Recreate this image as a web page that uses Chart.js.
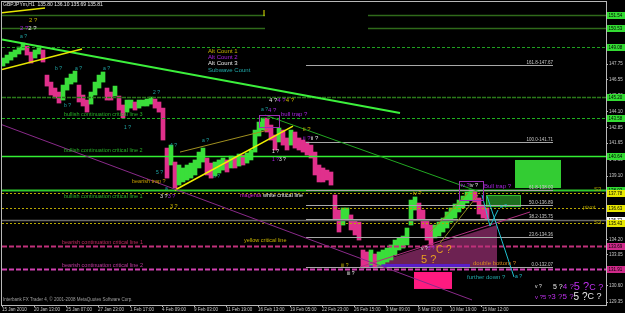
<!DOCTYPE html>
<html lang="en">
<head>
  <meta charset="UTF-8" />
  <title>GBPJPYm,H1</title>
  <script src="https://cdn.jsdelivr.net/npm/chart.js"></script>
  <style>
    html, body { margin: 0; padding: 0; background: #000; overflow: hidden; }
    canvas { display: block; }
  </style>
</head>
<body>
  <canvas id="priceChart" width="625" height="313"></canvas>

  <script>
    // ---- data ----
    const dateLabels = ['15 Jan 2010', '20 Jan 13:00', '25 Jan 07:00', '27 Jan 23:00', '1 Feb 17:00', '4 Feb 09:00',
      '9 Feb 03:00', '11 Feb 19:00', '16 Feb 13:00', '19 Feb 05:00', '22 Feb 23:00', '26 Feb 15:00',
      '3 Mar 09:00', '8 Mar 03:00', '10 Mar 19:00', '15 Mar 12:00'];
    const dateTickBars = [0, 64, 128, 192, 256, 320, 384, 448, 512, 576, 640, 704, 768, 832, 896, 960];
    const priceTicks = [129.35, 130.60, 131.80, 133.05, 134.20, 135.45, 136.65, 137.90, 139.10, 140.35,
      141.65, 142.85, 144.10, 145.30, 146.55, 147.75, 149.00, 150.30, 151.50];

    // one sample per 8 H1 bars
    const highs = [148.22, 148.45, 148.68, 148.84, 149.07, 149.38, 149.14, 148.68, 148.84, 149.14,
      148.84, 146.90, 146.36, 145.90, 145.59, 146.13, 146.67, 146.98, 147.21, 146.13,
      145.36, 144.97, 145.59, 146.36, 146.90, 147.14, 145.90, 145.59, 146.05, 145.28,
      144.59, 144.97, 144.97, 144.82, 144.97, 144.97, 145.05, 145.20, 145.05, 144.82,
      144.35, 141.26, 141.49, 140.18, 139.95, 139.72, 139.95, 140.10, 140.34, 140.95,
      141.26, 140.49, 140.10, 140.18, 140.34, 140.49, 140.34, 140.64, 140.57, 140.80,
      140.72, 140.88, 141.11, 142.65, 143.27, 143.58, 143.58, 143.04, 142.27, 142.81,
      142.65, 142.04, 142.65, 142.50, 142.04, 141.88, 141.73, 141.49, 140.95, 139.95,
      139.72, 139.56, 139.41, 137.63, 136.47, 136.63, 136.63, 136.09, 135.70, 135.54,
      133.38, 133.23, 133.38, 133.07, 133.23, 133.38, 133.53, 133.77, 134.15, 134.31,
      134.46, 135.08, 137.24, 137.48, 137.01, 136.47, 135.70, 135.31, 135.31, 135.54,
      135.85, 136.32, 136.63, 136.94, 137.24, 137.55, 137.86, 138.02, 137.94, 137.40,
      136.86, 136.63];
    const lows = [147.60, 147.83, 148.06, 148.30, 148.53, 148.84, 148.45, 147.83, 148.22, 148.53,
      147.91, 146.05, 145.36, 145.13, 144.74, 144.97, 145.74, 146.21, 146.36, 144.82,
      144.51, 144.04, 144.66, 145.36, 145.90, 146.36, 144.97, 144.97, 145.28, 144.20,
      143.58, 144.04, 144.35, 144.20, 144.35, 144.51, 144.51, 144.66, 144.35, 144.04,
      141.88, 138.94, 139.95, 138.17, 138.40, 138.64, 138.79, 138.94, 139.18, 139.72,
      140.18, 139.18, 138.94, 139.10, 139.33, 139.56, 139.41, 139.72, 139.72, 139.87,
      139.95, 140.10, 140.34, 140.95, 142.19, 142.65, 142.50, 141.88, 141.11, 141.73,
      141.49, 141.11, 141.49, 141.26, 141.11, 140.95, 140.72, 140.49, 139.18, 138.64,
      138.64, 138.79, 138.40, 135.70, 134.77, 135.31, 135.70, 134.93, 134.54, 134.15,
      131.99, 132.07, 132.22, 131.99, 132.14, 132.30, 132.45, 132.61, 133.00, 133.38,
      133.53, 133.77, 135.31, 136.47, 135.70, 135.08, 134.15, 133.77, 134.31, 134.46,
      134.77, 135.08, 135.54, 135.85, 136.32, 136.63, 137.01, 137.24, 137.09, 136.16,
      135.85, 135.70];

    // horizontal levels and their price boxes on the right
    const levelPrices = [151.54, 151.54, 150.53, 150.53, 149.08, 145.20, 143.58, 140.64, 138.02, 137.78, 136.63, 135.72, 135.43, 133.69, 131.91];
    const fibRatios = ['161.8', '100.0', '61.8', '50.0', '38.2', '23.6', '0.0'];
    const fibPrices = [147.67, 141.71, 138.03, 136.89, 135.75, 134.36, 132.07];

    const GREEN = '#33dd33', YEL = '#b8a800', PURP = '#a824e0', TEAL = '#20a8a8', OLIVE = '#c8b400';
    const ORANGE = '#e8a020', WHITE = '#e8e8e8';

    const levelStyle = [
      { color: '#2f6a1a', width: 1.5, dash: [], from: 0, to: 526, box: GREEN },
      { color: '#2f6a1a', width: 1.5, dash: [], from: 732, to: 1208 },
      { color: '#2f6a1a', width: 1.5, dash: [], from: 0, to: 526, box: GREEN },
      { color: '#2f6a1a', width: 1.5, dash: [], from: 732, to: 1208 },
      { color: '#20a020', width: 1, dash: [3, 2], box: GREEN },
      { color: '#2a7a1a', width: 1.5, dash: [4, 1], box: GREEN },
      { color: '#20b020', width: 1, dash: [3, 2], box: GREEN },
      { color: '#33ee33', width: 1.5, dash: [], box: GREEN },
      { color: '#2ec82e', width: 2, dash: [], box: GREEN },
      { color: YEL, width: 1, dash: [2, 2], box: '#e8e800' },
      { color: YEL, width: 1, dash: [2, 2], box: '#e8e800' },
      { color: '#6a6a6a', width: 1.5, dash: [], box: '#ffffff' },
      { color: YEL, width: 1, dash: [2, 2], box: '#e8e800' },
      { color: '#c0307a', width: 2, dash: [5, 2], box: '#d02a8a' },
      { color: '#d040b0', width: 2, dash: [5, 2], box: '#d02a8a' }
    ];

    const trendLines = [
      { pts: [[0, 149.66], [796, 143.97]], color: '#3cf03c', width: 2 },
      { pts: [[526, 143.81], [956, 137.86]], color: '#22a822', width: 1 },
      { pts: [[0, 147.33], [160, 148.91]], color: '#e6e600', width: 1.5 },
      { pts: [[0, 151.71], [86, 152.08]], color: '#e6e600', width: 1.5 },
      { pts: [[346, 138.02], [582, 142.96]], color: '#f0f000', width: 1.5 },
      { pts: [[356, 140.95], [532, 142.65]], color: '#a09020', width: 1 },
      { pts: [[0, 143.06], [940, 129.52]], color: '#8a2a8a', width: 1 },
      { pts: [[716, 132.07], [1056, 136.32]], color: '#b03080', width: 1 },
      { pts: [[856, 134.77], [932, 137.78]], color: '#909020', width: 1 },
      { pts: [[876, 133.92], [952, 137.63]], color: '#909020', width: 1 },
      { pts: [[960, 137.63], [976, 135.23], [992, 136.47]], color: '#20c0d0', width: 1 },
      { pts: [[970, 137.55], [1024, 131.29]], color: '#20c0d0', width: 1 },
      { pts: [[524, 151.93], [524, 151.46]], color: '#e6e600', width: 1 }
    ];

    const fillRects = [
      { bars: [1026, 1118], prices: [140.34, 138.17], fill: '#33cc33' },
      { bars: [968, 1038], prices: [137.63, 136.70], fill: '#1e6e1e', stroke: '#30c030' },
      { bars: [824, 900], prices: [131.68, 130.37], fill: '#ff1a80' },
      { bars: [720, 936], prices: [132.30, 131.99], fill: '#5a1ec8' }
    ];
    const triangle = [[720, 132.07], [990, 135.31], [990, 132.07]];
    const outlineBoxes = [
      { bars: [514, 554], prices: [143.81, 142.89] },
      { bars: [914, 962], prices: [138.71, 137.24] }
    ];

    const labels = [
      { at: [2, 152.31], parts: [['GBPJPYm,H1  135.80 136.10 135.69 135.81', WHITE, 5]] },
      { at: [54, 151.15], parts: [['2 ?', OLIVE, 6]] },
      { at: [36, 150.54], parts: [['2 ?', PURP, 6], ['2 ?', WHITE, 6]] },
      { at: [36, 149.84], parts: [['a ?', TEAL, 5]] },
      { at: [412, 148.76], parts: [['Alt Count 1', OLIVE, 6]] },
      { at: [412, 148.30], parts: [['Alt Count 2', PURP, 6]] },
      { at: [412, 147.83], parts: [['Alt Count 3', WHITE, 6]] },
      { at: [412, 147.29], parts: [['Subwave Count', TEAL, 6]] },
      { at: [106, 147.37], parts: [['b ?', TEAL, 5]] },
      { at: [146, 147.37], parts: [['a ?', TEAL, 5]] },
      { at: [202, 147.37], parts: [['a ?', TEAL, 5]] },
      { at: [124, 144.51], parts: [['b ?', TEAL, 5]] },
      { at: [244, 142.81], parts: [['1 ?', TEAL, 5]] },
      { at: [302, 145.51], parts: [['2 ?', TEAL, 5]] },
      { at: [124, 143.89], parts: [['bullish continuation critical line 3', '#28b028', 5.5]] },
      { at: [534, 144.97], parts: [['4 ?', WHITE, 6], ['4 ?', PURP, 6], ['4 ?', OLIVE, 6]] },
      { at: [518, 144.20], parts: [['a ?', TEAL, 5], ['4 ?', PURP, 6]] },
      { at: [558, 143.89], parts: [['bull trap ?', PURP, 6]] },
      { at: [602, 142.73], parts: [['ii ?', OLIVE, 6]] },
      { at: [602, 142.04], parts: [['ii ?', PURP, 6], ['ii ?', WHITE, 6]] },
      { at: [124, 141.11], parts: [['bullish continuation critical line 2', '#28b028', 5.5]] },
      { at: [336, 141.42], parts: [['4 ?', TEAL, 5]] },
      { at: [400, 141.80], parts: [['a ?', TEAL, 5]] },
      { at: [422, 139.02], parts: [['b ?', TEAL, 5]] },
      { at: [308, 139.33], parts: [['5 ?', TEAL, 5]] },
      { at: [260, 138.71], parts: [['bearish trap ?', '#c8a000', 5.5]] },
      { at: [540, 140.95], parts: [['1 ?', WHITE, 5]] },
      { at: [540, 140.34], parts: [['1 ?', PURP, 5], ['3 ?', WHITE, 5]] },
      { at: [124, 137.55], parts: [['bullish continuation critical line 1', '#28b028', 5.5]] },
      { at: [326, 138.09], parts: [['a', TEAL, 5]] },
      { at: [316, 137.48], parts: [['3 ?', WHITE, 5.5], ['3 ?', PURP, 5.5]] },
      { at: [336, 136.78], parts: [['3 ?', OLIVE, 5.5]] },
      { at: [476, 137.63], parts: [['magenta ', '#d020d0', 5.5], ['white critical line', WHITE, 5.5]] },
      { at: [484, 134.08], parts: [['yellow critical line', OLIVE, 5.5]] },
      { at: [120, 134.00], parts: [['bearish continuation critical line 1', '#c02860', 5.5]] },
      { at: [120, 132.22], parts: [['bearish continuation critical line 2', '#c038a0', 5.5]] },
      { at: [2, 129.52], parts: [['Interbank FX Trader 4, \u00a9 2001-2008 MetaQuotes Software Corp.', '#a0a0a0', 4.5]] },
      { at: [822, 137.78], parts: [['iv ?', OLIVE, 5.5]] },
      { at: [918, 138.33], parts: [['iv ?', PURP, 5.5], ['iv ?', WHITE, 5.5]] },
      { at: [964, 138.33], parts: [['Bull trap ?', PURP, 6]] },
      { at: [838, 133.46], parts: [['v ?', WHITE, 5], ['5 ?', PURP, 5]] },
      { at: [868, 133.38], parts: [['C ?', ORANGE, 10]] },
      { at: [838, 132.61], parts: [['5 ?', ORANGE, 11]] },
      { at: [942, 132.38], parts: [['double bottom ?', '#d88a20', 6]] },
      { at: [930, 131.29], parts: [['further down ?', TEAL, 6]] },
      { at: [1026, 131.29], parts: [['a ?', '#20c0d0', 5]] },
      { at: [996, 136.70], parts: [['a ?', '#20c0d0', 5]] },
      { at: [678, 132.14], parts: [['iii ?', OLIVE, 5]] },
      { at: [690, 131.53], parts: [['iii ?', WHITE, 5]] },
      { at: [1184, 138.09], parts: [['S3', '#b0a000', 6]] },
      { at: [1162, 136.70], parts: [['pivot', '#b0a000', 6]] },
      { at: [1184, 135.54], parts: [['S3', '#b0a000', 6]] },
      { at: [1066, 130.52], parts: [['v ?', WHITE, 5]] },
      { at: [1102, 130.52], parts: [['5 ?', WHITE, 7], ['4 ?', '#c030f0', 8], ['5 ?', '#c030f0', 11], ['C ?', '#c030f0', 9]] },
      { at: [1066, 129.75], parts: [['v ?5 ?', '#c030f0', 6], ['3 ?', '#c030f0', 8], ['5 ?', '#c030f0', 8], ['5 ?', WHITE, 10], ['C ?', WHITE, 9]] }
    ];

    // ---- chart ----
    const FONT = '"Liberation Sans", Arial, sans-serif';
    const candles = highs.map((h, i) => ({ x: 2 + i * 8, y: [lows[i], h] }));
    const candleColors = highs.map((h, i) => {
      if (i === 0) return '#3ade3a';
      return h + lows[i] >= highs[i - 1] + lows[i - 1] ? '#3ade3a' : '#e0308c';
    });

    function drawParts(ctx, x, y, parts) {
      let cx = x;
      parts.forEach(([t, color, size]) => {
        ctx.font = `${size}px ${FONT}`;
        ctx.fillStyle = color;
        ctx.fillText(t, cx, y);
        cx += ctx.measureText(t).width;
      });
    }

    const overlay = {
      id: 'overlay',
      beforeDraw(chart) {
        const ctx = chart.ctx;
        ctx.save();
        ctx.fillStyle = '#000';
        ctx.fillRect(0, 0, chart.width, chart.height);
        ctx.restore();
      },
      beforeDatasetsDraw(chart) {
        const { ctx, chartArea: a, scales: { x, y } } = chart;
        ctx.save();
        ctx.beginPath();
        ctx.rect(a.left, a.top, a.right - a.left, a.bottom - a.top);
        ctx.clip();
        ctx.fillStyle = 'rgba(128, 40, 96, 0.85)';
        ctx.beginPath();
        triangle.forEach(([b, p], i) => {
          const px = x.getPixelForValue(b), py = y.getPixelForValue(p);
          i ? ctx.lineTo(px, py) : ctx.moveTo(px, py);
        });
        ctx.closePath();
        ctx.fill();
        fillRects.forEach(r => {
          const x0 = x.getPixelForValue(r.bars[0]), x1 = x.getPixelForValue(r.bars[1]);
          const y0 = y.getPixelForValue(r.prices[0]), y1 = y.getPixelForValue(r.prices[1]);
          ctx.fillStyle = r.fill;
          ctx.fillRect(x0, y0, x1 - x0, y1 - y0);
          if (r.stroke) {
            ctx.strokeStyle = r.stroke;
            ctx.lineWidth = 1;
            ctx.strokeRect(x0 + 0.5, y0 + 0.5, x1 - x0 - 1, y1 - y0 - 1);
          }
        });
        ctx.restore();
      },
      afterDatasetsDraw(chart) {
        const { ctx, chartArea: a, scales: { x, y } } = chart;
        ctx.save();
        ctx.beginPath();
        ctx.rect(a.left, a.top, a.right - a.left, a.bottom - a.top);
        ctx.clip();

        levelPrices.forEach((p, i) => {
          const s = levelStyle[i];
          const py = Math.round(y.getPixelForValue(p)) + 0.5;
          const x0 = s.from !== undefined ? x.getPixelForValue(s.from) : a.left;
          const x1 = s.to !== undefined ? x.getPixelForValue(s.to) : a.right;
          ctx.strokeStyle = s.color;
          ctx.lineWidth = s.width;
          ctx.setLineDash(s.dash);
          ctx.beginPath();
          ctx.moveTo(x0, py);
          ctx.lineTo(x1, py);
          ctx.stroke();
        });
        ctx.setLineDash([]);

        // fibonacci levels
        const fx0 = x.getPixelForValue(608), fx1 = x.getPixelForValue(1102);
        ctx.font = `4.5px ${FONT}`;
        ctx.textAlign = 'right';
        ctx.textBaseline = 'bottom';
        fibPrices.forEach((p, i) => {
          const py = Math.round(y.getPixelForValue(p)) + 0.5;
          ctx.strokeStyle = '#a8a8a8';
          ctx.lineWidth = 1;
          ctx.beginPath();
          ctx.moveTo(fx0, py);
          ctx.lineTo(fx1, py);
          ctx.stroke();
          ctx.fillStyle = '#c8c8c8';
          ctx.fillText(`${fibRatios[i]}-${p.toFixed(2)}`, fx1, py - 0.5);
        });

        trendLines.forEach(l => {
          ctx.strokeStyle = l.color;
          ctx.lineWidth = l.width;
          ctx.beginPath();
          l.pts.forEach(([b, p], i) => {
            const px = x.getPixelForValue(b), py = y.getPixelForValue(p);
            i ? ctx.lineTo(px, py) : ctx.moveTo(px, py);
          });
          ctx.stroke();
        });

        ctx.strokeStyle = '#9a30b0';
        ctx.lineWidth = 1;
        outlineBoxes.forEach(r => {
          const x0 = x.getPixelForValue(r.bars[0]), x1 = x.getPixelForValue(r.bars[1]);
          const y0 = y.getPixelForValue(r.prices[0]), y1 = y.getPixelForValue(r.prices[1]);
          ctx.strokeRect(Math.round(x0) + 0.5, Math.round(y0) + 0.5, Math.round(x1 - x0), Math.round(y1 - y0));
        });

        ctx.textAlign = 'left';
        ctx.textBaseline = 'middle';
        labels.forEach(l => {
          drawParts(ctx, x.getPixelForValue(l.at[0]), y.getPixelForValue(l.at[1]), l.parts);
        });
        ctx.restore();
      },
      afterDraw(chart) {
        const { ctx, chartArea: a, scales: { y } } = chart;
        ctx.save();
        ctx.strokeStyle = '#b8b8b8';
        ctx.lineWidth = 1;
        ctx.strokeRect(a.left - 0.5, a.top - 0.5, a.right - a.left + 1, a.bottom - a.top + 1);

        ctx.font = `4.5px ${FONT}`;
        ctx.textAlign = 'left';
        ctx.textBaseline = 'middle';
        levelPrices.forEach((p, i) => {
          const s = levelStyle[i];
          if (!s.box) return;
          const py = Math.round(y.getPixelForValue(p));
          ctx.fillStyle = s.box;
          ctx.fillRect(a.right + 1, py - 3, 18, 7);
          ctx.fillStyle = '#000';
          ctx.fillText(p.toFixed(2), a.right + 2.5, py + 0.5);
        });
        ctx.restore();
      }
    };

    new Chart(document.getElementById('priceChart'), {
      type: 'bar',
      data: {
        datasets: [{
          data: candles,
          backgroundColor: candleColors,
          borderWidth: 0,
          barThickness: 4
        }]
      },
      options: {
        responsive: false,
        animation: false,
        layout: { padding: { left: 2, top: 2, right: 0, bottom: 0 } },
        plugins: { legend: { display: false }, tooltip: { enabled: false } },
        scales: {
          x: {
            type: 'linear',
            offset: false,
            min: 0,
            max: 1208,
            afterBuildTicks: s => { s.ticks = dateTickBars.map(v => ({ value: v })); },
            afterFit: s => { s.height = 8; s.paddingLeft = 0; s.paddingRight = 0; },
            grid: { display: true, offset: false, drawOnChartArea: false, tickLength: 2, color: '#b8b8b8' },
            border: { color: '#b8b8b8' },
            ticks: {
              autoSkip: false,
              maxRotation: 0,
              align: 'start',
              padding: 0,
              color: '#c8c8c8',
              font: { size: 4.5, family: FONT },
              callback: (v, i) => dateLabels[i]
            }
          },
          y: {
            position: 'right',
            min: 129.13,
            max: 152.55,
            afterBuildTicks: s => { s.ticks = priceTicks.map(v => ({ value: v })); },
            afterFit: s => { s.width = 19; s.paddingTop = 0; s.paddingBottom = 0; },
            grid: { display: true, drawOnChartArea: false, tickLength: 2, color: '#b8b8b8' },
            border: { color: '#b8b8b8' },
            ticks: {
              padding: 1,
              color: '#c8c8c8',
              font: { size: 4.5, family: FONT },
              callback: v => v.toFixed(2)
            }
          }
        }
      },
      plugins: [overlay]
    });
  </script>
</body>
</html>
